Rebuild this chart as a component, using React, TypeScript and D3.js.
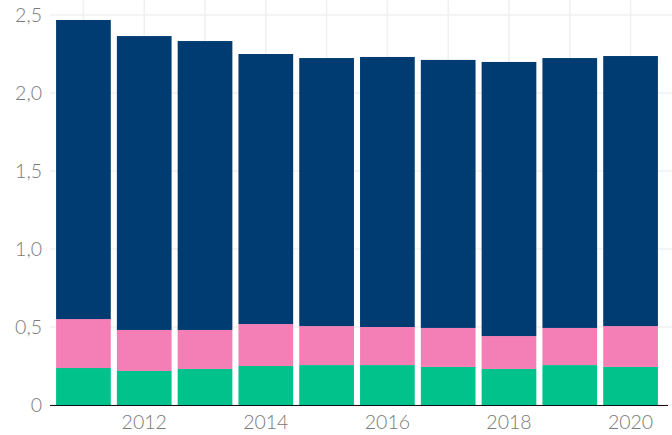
import { useEffect, useRef } from "react";
import * as d3 from "d3";

const years = [2011, 2012, 2013, 2014, 2015, 2016, 2017, 2018, 2019, 2020];
const green = [0.237, 0.218, 0.231, 0.25, 0.256, 0.256, 0.244, 0.231, 0.256, 0.244];
const pink = [0.314, 0.263, 0.25, 0.269, 0.25, 0.244, 0.25, 0.211, 0.238, 0.262];
const blue = [1.917, 1.884, 1.852, 1.731, 1.718, 1.731, 1.718, 1.757, 1.73, 1.731];
const yTicks = [0, 0.5, 1, 1.5, 2, 2.5];
const xTickYears = [2012, 2014, 2016, 2018, 2020];

const seriesKeys = ["green", "pink", "blue"];
const colors = ["#00c28a", "#f47fb6", "#003b71"];

export default function App() {
  const ref = useRef(null);

  useEffect(() => {
    const width = 672,
      height = 435;
    const svg = d3.select(ref.current).attr("width", width).attr("height", height);
    svg.selectAll("*").remove();

    const rows = years.map((yr, i) => ({ year: yr, green: green[i], pink: pink[i], blue: blue[i] }));

    const x = d3.scaleBand().domain(years.map(String)).range([50, 664]).paddingInner(0.1).paddingOuter(0.1);
    const y = d3.scaleLinear().domain([0, 2.5]).range([405, 15]);

    const fmt = (v) => (v === 0 ? "0" : d3.format(".1f")(v).replace(".", ","));

    // grid
    svg.append("g")
      .selectAll("line")
      .data(yTicks)
      .enter()
      .append("line")
      .attr("x1", 50)
      .attr("x2", width)
      .attr("y1", (d) => y(d))
      .attr("y2", (d) => y(d))
      .attr("stroke", "#f0f0f0")
      .attr("stroke-width", 1.5);

    svg.append("g")
      .selectAll("line")
      .data(years)
      .enter()
      .append("line")
      .attr("x1", (d) => x(String(d)) + x.bandwidth() / 2)
      .attr("x2", (d) => x(String(d)) + x.bandwidth() / 2)
      .attr("y1", 0)
      .attr("y2", y(0))
      .attr("stroke", "#f0f0f0")
      .attr("stroke-width", 1.5);

    const stack = d3.stack().keys(seriesKeys);
    const layers = stack(rows);

    svg.append("g")
      .selectAll("g")
      .data(layers)
      .enter()
      .append("g")
      .attr("fill", (d, i) => colors[i])
      .selectAll("rect")
      .data((d) => d)
      .enter()
      .append("rect")
      .attr("x", (d) => x(String(d.data.year)))
      .attr("width", x.bandwidth())
      .attr("y", (d) => y(d[1]))
      .attr("height", (d) => y(d[0]) - y(d[1]));

    // baseline
    svg.append("line")
      .attr("x1", 50)
      .attr("x2", 668)
      .attr("y1", y(0) + 0.5)
      .attr("y2", y(0) + 0.5)
      .attr("stroke", "#111")
      .attr("stroke-width", 1);

    // y labels
    svg.append("g")
      .selectAll("text")
      .data(yTicks)
      .enter()
      .append("text")
      .attr("x", 42)
      .attr("y", (d) => y(d))
      .attr("dy", "0.36em")
      .attr("text-anchor", "end")
      .attr("fill", "#7a7a7a")
      .style("font-family", "Lato, 'Open Sans', sans-serif")
      .style("font-weight", 300)
      .style("font-size", "19.5px")
      .text(fmt);

    // x labels
    svg.append("g")
      .selectAll("text")
      .data(xTickYears)
      .enter()
      .append("text")
      .attr("x", (d) => x(String(d)) + x.bandwidth() / 2)
      .attr("y", 429)
      .attr("text-anchor", "middle")
      .attr("fill", "#7a7a7a")
      .style("font-family", "Lato, 'Open Sans', sans-serif")
      .style("font-weight", 300)
      .style("font-size", "19.5px")
      .text((d) => d);
  }, []);

  return (
    <div>
      <svg ref={ref} style={{ position: "absolute", left: 0, top: 0 }}></svg>
    </div>
  );
}
